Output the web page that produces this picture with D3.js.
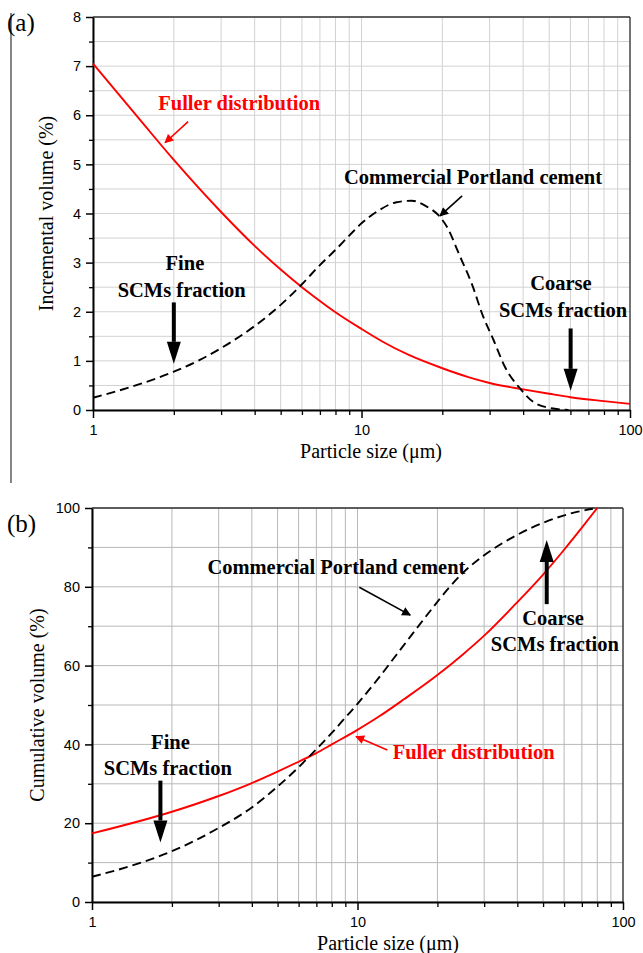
<!DOCTYPE html>
<html>
<head>
<meta charset="utf-8">
<script src="https://cdn.jsdelivr.net/npm/d3@7"></script>
<style>
  body { margin: 0; background: #fff; }
  svg { display: block; }
  .ann { font-family: "Liberation Serif", "Times New Roman", serif; font-weight: bold; font-size: 20.5px; }
  .title { font-family: "Liberation Serif", "Times New Roman", serif; font-size: 20px; }
</style>
</head>
<body>
<div id="chart"></div>
<script>
// ---- data ----
// (a) incremental volume, %
const fullerIncX = [1, 1.5, 2, 3, 4, 5, 6, 7, 8, 10, 12, 15, 20, 25, 30, 40, 50, 60, 80, 100];
const fullerIncY = [7.05, 5.9, 5.09, 4.03, 3.34, 2.86, 2.5, 2.22, 1.99, 1.65, 1.39, 1.12, 0.85, 0.67, 0.55, 0.42, 0.33, 0.26, 0.18, 0.125];
const cementIncX = [1, 1.5, 2, 2.5, 3, 4, 5, 6, 7, 8, 9, 10, 11.5, 13.5, 15.4, 17.5, 19.3, 20.8, 23.3, 25.7, 28.4, 31, 34.2, 38.9, 44.3, 51.8, 59];
const cementIncY = [0.25, 0.53, 0.78, 1.02, 1.26, 1.71, 2.14, 2.56, 2.95, 3.26, 3.55, 3.8, 4.05, 4.23, 4.26, 4.14, 3.97, 3.73, 3.12, 2.58, 1.9, 1.43, 0.88, 0.44, 0.14, 0.03, 0];

// (b) cumulative volume, %
const fullerCumX = [1, 2, 3, 4, 5, 6, 7, 8, 10, 12, 15, 20, 25, 30, 40, 50, 60, 70, 80];
const fullerCumY = [17.4, 22.9, 26.9, 30.2, 33.1, 35.6, 37.8, 40.0, 43.7, 47.0, 51.5, 57.6, 62.9, 67.6, 76.1, 83.1, 89.4, 95, 100];
const cementCumX = [1, 1.5, 2, 3, 4, 5, 6, 7, 8, 9, 10, 12, 14, 16, 18.75, 22, 25, 30, 39, 51.6, 67, 77];
const cementCumY = [6.4, 9.8, 12.9, 18.8, 24.0, 29.3, 34.2, 38.8, 42.9, 46.8, 50.3, 56.8, 62.7, 67.8, 73.8, 79.6, 83.6, 88.0, 92.8, 96.6, 99.0, 99.8];

const xMajor = [1, 10, 100];
const yMajorA = [0, 1, 2, 3, 4, 5, 6, 7, 8];
const yMajorB = [0, 20, 40, 60, 80, 100];

const W = 643, H = 953;
const svg = d3.select("#chart").append("svg").attr("width", W).attr("height", H);

// arrow marker for thin annotation arrows
const defs = svg.append("defs");
[["arrRed", "#ff0000"], ["arrBlack", "#000"]].forEach(([id, c]) => {
  defs.append("marker").attr("id", id)
    .attr("viewBox", "0 0 10 10").attr("refX", 9).attr("refY", 5)
    .attr("markerWidth", 10).attr("markerHeight", 9)
    .attr("markerUnits", "userSpaceOnUse").attr("orient", "auto")
    .append("path").attr("d", "M0,0 L10,5 L0,10 Z").attr("fill", c);
});

// left page rule
svg.append("line").attr("x1", 11).attr("x2", 11).attr("y1", 13).attr("y2", 483)
  .attr("stroke", "#444").attr("stroke-width", 1.3);

function styleLabels(a) {
  a.selectAll("text")
    .style("font-family", "'Liberation Sans', Arial, sans-serif")
    .style("font-size", "14.5px").attr("fill", "#000");
}

function panel(opt) {
  const x = d3.scaleLog().domain([1, 100]).range([opt.left, opt.right]);
  const y = d3.scaleLinear().domain([0, opt.ymax]).range([opt.bottom, opt.top]);
  const g = svg.append("g");

  // grid
  const xGrid = x.ticks();
  g.append("g").selectAll("line").data(xGrid).join("line")
    .attr("x1", d => x(d)).attr("x2", d => x(d))
    .attr("y1", opt.top).attr("y2", opt.bottom)
    .attr("stroke", opt.grid).attr("stroke-width", 1);
  g.append("g").selectAll("line").data(opt.yMinor).join("line")
    .attr("x1", opt.left).attr("x2", opt.right)
    .attr("y1", d => y(d)).attr("y2", d => y(d))
    .attr("stroke", opt.grid).attr("stroke-width", 1);

  // frame top/right
  g.append("line").attr("x1", opt.left).attr("x2", opt.right).attr("y1", opt.top).attr("y2", opt.top)
    .attr("stroke", "#333").attr("stroke-width", 1.3);
  g.append("line").attr("x1", opt.right).attr("x2", opt.right).attr("y1", opt.top).attr("y2", opt.bottom)
    .attr("stroke", "#333").attr("stroke-width", 1.3);

  // axes
  const xMinor = xGrid.filter(d => !xMajor.includes(d));
  g.append("g").attr("transform", `translate(0,${opt.bottom})`)
    .call(d3.axisBottom(x).tickValues(xMinor).tickSize(5).tickFormat(""))
    .call(a => a.select(".domain").remove())
    .call(a => a.selectAll("line").attr("stroke-width", 1.3));
  g.append("g").attr("transform", `translate(0,${opt.bottom})`)
    .call(d3.axisBottom(x).tickValues(xMajor).tickSize(8).tickPadding(7).tickSizeOuter(0).tickFormat(d3.format("d")))
    .call(a => a.select(".domain").attr("stroke-width", 2))
    .call(a => a.selectAll("line").attr("stroke-width", 1.5))
    .call(styleLabels);
  g.append("g").attr("transform", `translate(${opt.left},0)`)
    .call(d3.axisLeft(y).tickValues(opt.yMinor.filter(d => !opt.yMajor.includes(d))).tickSize(4).tickFormat(""))
    .call(a => a.select(".domain").remove())
    .call(a => a.selectAll("line").attr("stroke-width", 1.3));
  g.append("g").attr("transform", `translate(${opt.left},0)`)
    .call(d3.axisLeft(y).tickValues(opt.yMajor).tickSize(7).tickPadding(5).tickSizeOuter(0))
    .call(a => a.select(".domain").attr("stroke-width", 2))
    .call(a => a.selectAll("line").attr("stroke-width", 1.5))
    .call(styleLabels);

  // titles
  g.append("text").attr("class", "title").attr("text-anchor", "middle")
    .attr("x", opt.xTitleX).attr("y", opt.bottom + 48).text("Particle size (\u03bcm)");
  g.append("text").attr("class", "title").attr("text-anchor", "middle")
    .attr("transform", `translate(${opt.yTitleX},${(opt.top + opt.bottom) / 2}) rotate(-90)`)
    .text(opt.yTitle);
  g.append("text").attr("x", 7).attr("y", opt.tagY)
    .style("font-family", "Liberation Serif, serif").style("font-size", "25px").text(opt.tag);

  // series
  const line = d3.line().x(d => x(d[0])).y(d => y(d[1])).curve(d3.curveMonotoneX);
  g.append("path").datum(d3.zip(opt.fx, opt.fy)).attr("d", line)
    .attr("fill", "none").attr("stroke", "#ff0000").attr("stroke-width", 1.9);
  g.append("path").datum(d3.zip(opt.cx, opt.cy)).attr("d", line)
    .attr("fill", "none").attr("stroke", "#000").attr("stroke-width", 1.9)
    .attr("stroke-dasharray", "9,5");

  // annotations
  opt.texts.forEach(t => {
    g.append("text").attr("class", "ann").attr("x", x(t.x)).attr("y", y(t.y))
      .attr("text-anchor", t.anchor || "middle").attr("fill", t.color || "#000").text(t.s);
  });
  opt.thin.forEach(a => {
    g.append("line").attr("x1", x(a.x1)).attr("y1", y(a.y1)).attr("x2", x(a.x2)).attr("y2", y(a.y2))
      .attr("stroke", a.color).attr("stroke-width", 1.6)
      .attr("marker-end", a.color === "#000" ? "url(#arrBlack)" : "url(#arrRed)");
  });
  opt.thick.forEach(a => {
    const px = x(a.x), y0 = y(a.y1), y1 = y(a.y2);
    const dir = Math.sign(y1 - y0), headLen = 22, hw = 7;
    g.append("line").attr("x1", px).attr("x2", px).attr("y1", y0).attr("y2", y1 - dir * headLen)
      .attr("stroke", "#000").attr("stroke-width", 4);
    g.append("path")
      .attr("d", `M${px - hw},${y1 - dir * headLen} L${px + hw},${y1 - dir * headLen} L${px},${y1} Z`)
      .attr("fill", "#000");
  });
}

panel({
  left: 93, right: 630, top: 17, bottom: 410, ymax: 8,
  yMajor: yMajorA, yMinor: d3.range(0, 8.01, 0.5), grid: "#d2d2d2",
  xTitleX: 371, yTitleX: 53, yTitle: "Incremental volume  (%)", tag: "(a)", tagY: 31,
  fx: fullerIncX, fy: fullerIncY, cx: cementIncX, cy: cementIncY,
  texts: [
    { s: "Fuller distribution", x: 1.75, y: 6.11, anchor: "start", color: "#ff0000" },
    { s: "Commercial Portland cement", x: 8.6, y: 4.6, anchor: "start" },
    { s: "Fine", x: 2.2, y: 2.84 },
    { s: "SCMs fraction", x: 2.14, y: 2.30 },
    { s: "Coarse", x: 55.3, y: 2.44 },
    { s: "SCMs fraction", x: 56.3, y: 1.90 }
  ],
  thin: [
    { x1: 2.26, y1: 5.87, x2: 1.855, y2: 5.44, color: "#ff0000" },
    { x1: 23.7, y1: 4.36, x2: 19.6, y2: 3.95, color: "#000" }
  ],
  thick: [
    { x: 2.0, y1: 2.19, y2: 0.94 },
    { x: 60.1, y1: 1.66, y2: 0.39 }
  ]
});

panel({
  left: 92, right: 623, top: 508, bottom: 902, ymax: 100,
  yMajor: yMajorB, yMinor: d3.range(0, 101, 10), grid: "#b8b8b8",
  xTitleX: 388, yTitleX: 44, yTitle: "Cumulative volume (%)", tag: "(b)", tagY: 532,
  fx: fullerCumX, fy: fullerCumY, cx: cementCumX, cy: cementCumY,
  texts: [
    { s: "Commercial Portland cement", x: 2.72, y: 83.2, anchor: "start" },
    { s: "Coarse", x: 54.5, y: 70.3 },
    { s: "SCMs fraction", x: 55.4, y: 63.8 },
    { s: "Fine", x: 1.975, y: 38.8 },
    { s: "SCMs fraction", x: 1.93, y: 32.2 },
    { s: "Fuller distribution", x: 13.57, y: 36.2, anchor: "start", color: "#ff0000" }
  ],
  thin: [
    { x1: 10.16, y1: 79.9, x2: 15.8, y2: 72.8, color: "#000" },
    { x1: 12.95, y1: 38.6, x2: 9.87, y2: 42.0, color: "#ff0000" }
  ],
  thick: [
    { x: 51.6, y1: 75.6, y2: 91.9 },
    { x: 1.81, y1: 30.8, y2: 15.1 }
  ]
});
</script>
</body>
</html>
